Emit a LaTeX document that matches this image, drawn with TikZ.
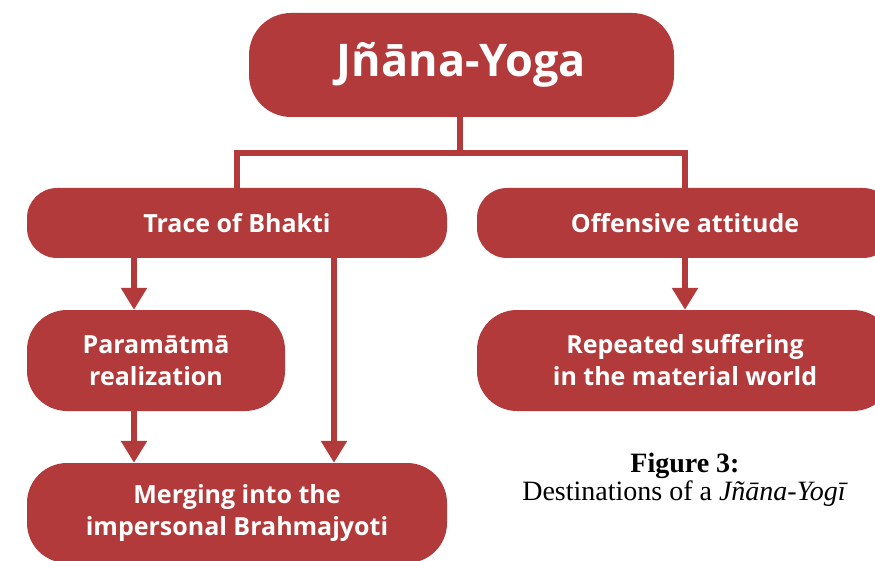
\documentclass[tikz,border=0pt]{standalone}
\usepackage{fontspec}
\usetikzlibrary{arrows.meta,calc}
\newfontfamily\boxfont[Ligatures=NoCommon]{Open Sans}
\newfontfamily\capfont{Liberation Serif}
\definecolor{BoxClr}{RGB}{179,58,58}

\begin{document}
\begin{tikzpicture}[x=1pt,y=-1pt,
  box/.style={fill=BoxClr,text=white,align=center,inner sep=0pt,
    font=\boxfont\bfseries\fontsize{25}{32}\selectfont},
  link/.style={draw=BoxClr,line width=6.5pt},
  arrow/.style={link,-{Triangle[length=22pt,width=25pt]}},
  caption/.style={align=center,font=\capfont\fontsize{28}{28}\selectfont}]
\clip (0,0) rectangle (875,561);

\node[box,minimum width=425pt,minimum height=104pt,rounded corners=42pt,
  font=\boxfont\bfseries\fontsize{45}{48}\selectfont] (yoga) at (461.5,65) {Jñāna-Yoga};

\node[box,minimum width=420pt,minimum height=70pt,rounded corners=30pt] (trace) at (237,223) {Trace of Bhakti};
\node[box,minimum width=416pt,minimum height=70pt,rounded corners=30pt] (offense) at (685,223) {Offensive attitude};

\node[box,minimum width=258pt,minimum height=101pt,rounded corners=40pt] (para) at (156,360.5) {Paramātmā\\realization};
\node[box,minimum width=416pt,minimum height=101pt,rounded corners=40pt] (suffer) at (685,360.5) {Repeated suffering\\in the material world};
\node[box,minimum width=420pt,minimum height=100pt,rounded corners=40pt] (merge) at (237,513) {Merging into the\\impersonal Brahmajyoti};

\node[caption] (cap) at (685,480) {\textbf{Figure 3:}\\Destinations of a \textit{Jñāna-Yogī}};

% connectors
\coordinate (bar) at (460,153);
\coordinate (colA) at (134,0);
\coordinate (colB) at (334,0);
\draw[link] (bar |- yoga.south) -- (bar);
\draw[link] (trace.north) |- (bar) -| (offense.north);

\draw[arrow] (trace.south -| colA) -- (para.north -| colA);
\draw[arrow] (para.south -| colA) -- (merge.north -| colA);
\draw[arrow] (trace.south -| colB) -- (merge.north -| colB);
\draw[arrow] (offense.south) -- (suffer.north);

\end{tikzpicture}
\end{document}
